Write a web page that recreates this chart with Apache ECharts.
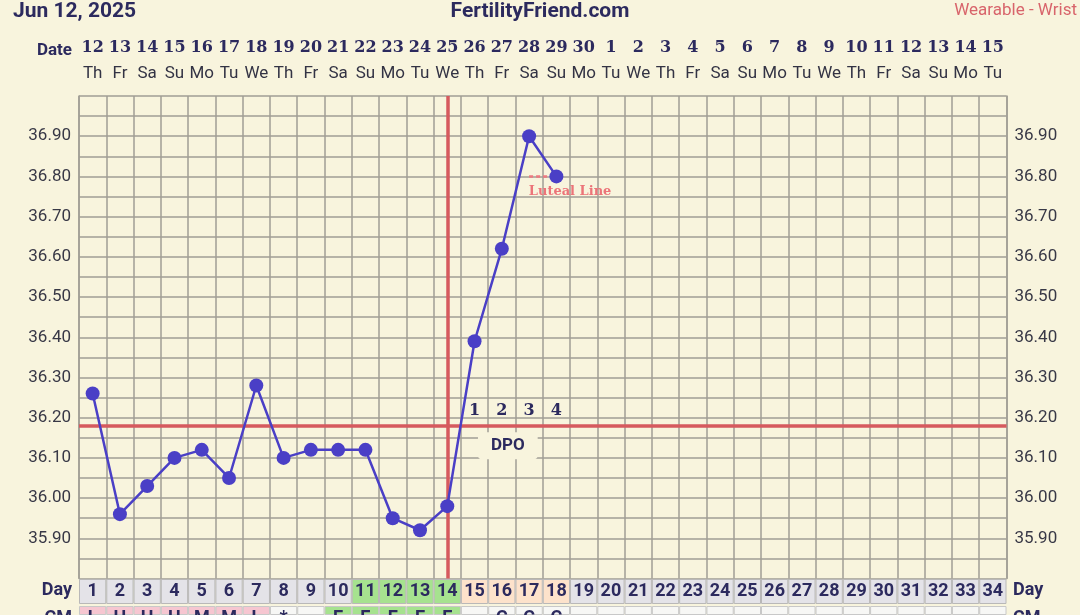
<!DOCTYPE html>
<html>
<head>
<meta charset="utf-8">
<script src="https://cdn.jsdelivr.net/npm/echarts@6/dist/echarts.min.js"></script>
<style>
html,body{margin:0;padding:0;background:#f8f4dd;}
#c{width:1080px;height:615px;}
</style>
</head>
<body>
<div id="c"></div>
<script>
// ---- data ----
const cycleDays = Array.from({length:34},(_,i)=>String(i+1));
const dateLabels = ['12','13','14','15','16','17','18','19','20','21','22','23','24','25','26','27','28','29','30','1','2','3','4','5','6','7','8','9','10','11','12','13','14','15'];
const weekdays = ['Th','Fr','Sa','Su','Mo','Tu','We','Th','Fr','Sa','Su','Mo','Tu','We','Th','Fr','Sa','Su','Mo','Tu','We','Th','Fr','Sa','Su','Mo','Tu','We','Th','Fr','Sa','Su','Mo','Tu'];
const temps = [36.26,35.96,36.03,36.10,36.12,36.05,36.28,36.10,36.12,36.12,36.12,35.95,35.92,35.98,36.39,36.62,36.90,36.80];
const coverline = 36.18;
const ovulationDay = '14';
const dpoDays = ['15','16','17','18'];
const dpoLabels = ['1','2','3','4'];
const lutealLevel = 36.80;
const lutealDays = ['17','18'];
const dayRowKinds = ['n','n','n','n','n','n','n','n','n','n','f','f','f','f','l','l','l','l','n','n','n','n','n','n','n','n','n','n','n','n','n','n','n','n'];
const cmLabels = ['L','H','H','H','M','M','L','*','','E','E','E','E','E','','C','C','C','','','','','','','','','','','','','','','',''];
const cmKinds = ['p','p','p','p','p','p','p','w','w','g','g','g','g','g','w','w','w','w','w','w','w','w','w','w','w','w','w','w','w','w','w','w','w','w'];

const navy = '#2c2a5e';
const gridCol = '#a09e94';
const dayRowColors = {n:'#e4e3e8', f:'#a6e28f', l:'#fde2cb'};
const cmColors = {p:'#f6c6d1', w:'#f7f7f5', g:'#a6e28f'};

const chart = echarts.init(document.getElementById('c'), null, {renderer:'canvas'});
const L = 79, R = 73.5;
const plainLabel = {textBorderWidth:0, textShadowBlur:0, opacity:1};

const option = {
  backgroundColor:'#f8f4dd',
  animation:false,
  grid:[
    {left:L, right:R, top:96, bottom:36.5, containLabel:false},
    {left:L, right:R, top:579, height:25, containLabel:false},
    {left:L, right:R, top:606, height:9, containLabel:false}
  ],
  xAxis:[
    {type:'category', gridIndex:0, position:'top', data:cycleDays, boundaryGap:true,
      axisLine:{show:false}, axisTick:{show:false},
      splitLine:{show:true, interval:0, lineStyle:{color:gridCol, width:1.5}},
      axisLabel:{interval:0, margin:10,
        formatter:(v,i)=>'{d|'+dateLabels[i]+'}\n{w|'+weekdays[i]+'}',
        rich:{
          d:{fontFamily:'DejaVu Serif', fontWeight:'bold', fontSize:16, color:navy, lineHeight:28, align:'center'},
          w:{fontFamily:'Roboto', fontSize:17, color:'#333344', lineHeight:24, align:'center'}
        }}},
    {type:'category', gridIndex:1, data:cycleDays, show:false},
    {type:'category', gridIndex:2, data:cycleDays, show:false}
  ],
  yAxis:[
    {type:'value', gridIndex:0, min:35.8, max:37.0, interval:0.05, position:'left',
      axisLine:{show:true, lineStyle:{color:gridCol, width:1.5}}, axisTick:{show:false},
      splitLine:{show:true, lineStyle:{color:gridCol, width:1.5}},
      axisLabel:{margin:8, fontFamily:'Roboto', fontSize:17, color:'#383846',
        formatter:v=>{const r=Math.round(v*100); if(r%10!==0||r<=3580||r>=3700) return ''; return (r/100).toFixed(2);}}},
    {type:'value', gridIndex:0, min:35.8, max:37.0, interval:0.05, position:'right',
      axisLine:{show:true, lineStyle:{color:gridCol, width:1.5}}, axisTick:{show:false},
      splitLine:{show:false},
      axisLabel:{margin:8, fontFamily:'Roboto', fontSize:17, color:'#383846',
        formatter:v=>{const r=Math.round(v*100); if(r%10!==0||r<=3580||r>=3700) return ''; return (r/100).toFixed(2);}}},
    {type:'value', gridIndex:1, min:0, max:1, show:false},
    {type:'value', gridIndex:2, min:0, max:1, show:false}
  ],
  graphic:[
    {type:'text', left:13, top:1, style:{text:'Jun 12, 2025', fontFamily:'Roboto', fontWeight:'bold', fontSize:21, fill:navy}},
    {type:'text', left:'center', top:1, style:{text:'FertilityFriend.com', fontFamily:'Roboto', fontWeight:'bold', fontSize:21, fill:navy}},
    {type:'text', right:3, top:2, style:{text:'Wearable - Wrist', fontFamily:'Roboto', fontSize:17, fill:'#d8646b'}},
    {type:'text', right:1008, top:42, style:{text:'Date', fontFamily:'Roboto', fontWeight:'bold', fontSize:17, fill:navy}},
    {type:'text', right:1008, top:581, style:{text:'Day', fontFamily:'Roboto', fontWeight:'bold', fontSize:18, fill:navy}},
    {type:'text', left:1013, top:581, style:{text:'Day', fontFamily:'Roboto', fontWeight:'bold', fontSize:18, fill:navy}},
    {type:'text', right:1008, top:609, style:{text:'CM', fontFamily:'Roboto', fontWeight:'bold', fontSize:18, fill:navy}},
    {type:'text', left:1013, top:609, style:{text:'CM', fontFamily:'Roboto', fontWeight:'bold', fontSize:18, fill:navy}}
  ],
  series:[
    {type:'line', xAxisIndex:0, yAxisIndex:0, data:[], z:2, silent:true,
      markLine:{symbol:'none', silent:true, label:{show:false},
        lineStyle:{color:'#d65a5e', width:3.5, type:'solid'},
        data:[{xAxis:ovulationDay},{yAxis:coverline}]}},
    {type:'line', xAxisIndex:0, yAxisIndex:0, z:3, symbol:'none',
      lineStyle:{color:'#ee7a80', width:2.5, type:[4,3]},
      data:lutealDays.map(d=>[d,lutealLevel])},
    {type:'scatter', xAxisIndex:0, yAxisIndex:0, z:4, symbolSize:0,
      data:[[lutealDays[0], lutealLevel]],
      label:Object.assign({show:true, position:'inside', offset:[41,15], formatter:'Luteal Line',
        fontFamily:'DejaVu Serif', fontWeight:'bold', fontSize:13, color:'#ec7479'}, plainLabel)},
    {type:'scatter', xAxisIndex:0, yAxisIndex:0, z:4, symbolSize:0,
      data:dpoDays.map((d,i)=>({value:[d,coverline], name:dpoLabels[i]})),
      label:Object.assign({show:true, position:'top', distance:7, formatter:p=>p.name,
        fontFamily:'DejaVu Serif', fontWeight:'bold', fontSize:16, color:navy}, plainLabel)},
    {type:'scatter', xAxisIndex:0, yAxisIndex:0, z:4, symbolSize:0,
      data:[[dpoDays[1], coverline]],
      label:Object.assign({show:true, position:'inside', offset:[6,20], formatter:'DPO',
        fontFamily:'Roboto', fontWeight:'bold', fontSize:17, color:navy,
        backgroundColor:'#f8f4dd', padding:[5,13], borderRadius:4}, plainLabel)},
    {type:'line', xAxisIndex:0, yAxisIndex:0, z:10, data:temps,
      symbol:'circle', symbolSize:14, color:'#4a3fc6',
      lineStyle:{color:'#4a3fc6', width:2.5},
      itemStyle:{color:'#4a3fc6'}},
    {type:'bar', xAxisIndex:1, yAxisIndex:2, barWidth:'100%',
      data:dayRowKinds.map(k=>({value:1, itemStyle:{color:dayRowColors[k]}})),
      itemStyle:{borderColor:'#b9b8b8', borderWidth:1},
      label:Object.assign({show:true, position:'inside', formatter:p=>cycleDays[p.dataIndex],
        fontFamily:'Roboto', fontWeight:'bold', fontSize:18, color:navy}, plainLabel)},
    {type:'bar', xAxisIndex:2, yAxisIndex:3, barWidth:'100%',
      data:cmKinds.map(k=>({value:1, itemStyle:{color:cmColors[k]}})),
      itemStyle:{borderColor:'#c8c8c8', borderWidth:1},
      label:Object.assign({show:true, position:'inside', offset:[0,8], formatter:p=>cmLabels[p.dataIndex],
        fontFamily:'Roboto', fontWeight:'bold', fontSize:18, color:navy}, plainLabel)}
  ]
};
chart.setOption(option);
</script>
</body>
</html>
